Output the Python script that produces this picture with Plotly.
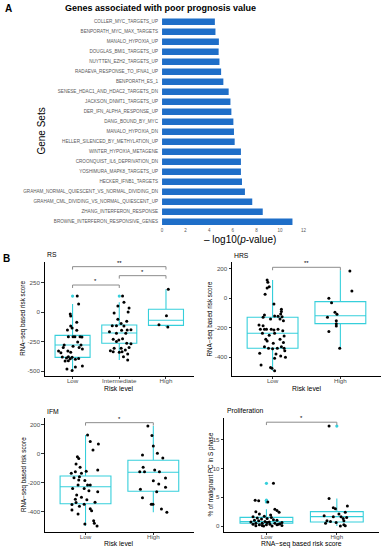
import plotly.graph_objects as go

W, H = 389, 550
FONT = "Liberation Sans, Arial, sans-serif"
CYAN = "#36cfdb"
BLUE = "#1e6ec8"

# ---------------- Panel A data ----------------
gene_sets = [
    "COLLER_MYC_TARGETS_UP", "BENPORATH_MYC_MAX_TARGETS", "MANALO_HYPOXIA_UP",
    "DOUGLAS_BMI1_TARGETS_UP", "NUYTTEN_EZH2_TARGETS_UP", "RADAEVA_RESPONSE_TO_IFNA1_UP",
    "BENPORATH_ES_1", "SENESE_HDAC1_AND_HDAC2_TARGETS_DN", "JACKSON_DNMT1_TARGETS_UP",
    "DER_IFN_ALPHA_RESPONSE_UP", "DANG_BOUND_BY_MYC", "MANALO_HYPOXIA_DN",
    "HELLER_SILENCED_BY_METHYLATION_UP", "WINTER_HYPOXIA_METAGENE",
    "CROONQUIST_IL6_DEPRIVATION_DN", "YOSHIMURA_MAPK8_TARGETS_UP", "HECKER_IFNB1_TARGETS",
    "GRAHAM_NORMAL_QUIESCENT_VS_NORMAL_DIVIDING_DN", "GRAHAM_CML_DIVIDING_VS_NORMAL_QUIESCENT_UP",
    "ZHANG_INTERFERON_RESPONSE", "BROWNE_INTERFERON_RESPONSIVE_GENES",
]
neg_log10_p = [4.48, 4.53, 4.82, 4.80, 4.87, 5.01, 5.20, 5.65, 5.80, 5.88, 6.05,
               6.10, 6.16, 6.69, 6.69, 6.69, 6.78, 7.03, 7.65, 8.54, 11.06]
bar_ticks = [0, 2, 4, 6, 8, 10, 12]

# ---------------- Panel B data ----------------
rs_levels = ["Low", "Intermediate", "High"]
two_levels = ["Low", "High"]

# RS
rs_low_vals = [135, 68, -17, -34, -87, -118, -135, -152, -155, -208, -210, -208, -212, -210,
               -279, -253, -279, -312, -290, -329, -329, -345, -340, -377, -395, -388, -382,
               -392, -414, -412, -400, -456, -465, -481, -495, -300, -300, -380]
rs_low_dx = [0.10, 0.13, -0.05, -0.04, 0.09, -0.04, -0.01, -0.11, 0.09, 0.01, -0.09, 0.16, 0.20,
             0.05, -0.18, 0.11, 0.18, 0.21, 0.01, -0.30, -0.10, -0.25, -0.04, -0.09, -0.05, -0.13,
             -0.01, 0.13, -0.16, -0.09, 0.06, 0.21, 0.06, -0.12, -0.01, -0.20, 0.14, -0.22]
rs_int_vals = [135, 82, 51, 34, 0, -9, -62, -79, -96, -115, -115, -118, -152, -150, -155, -180,
               -166, -180, -231, -236, -225, -250, -264, -268, -307, -307, -300, -321, -327,
               -335, -335, -355, -377, -405, -340]
rs_int_dx = [0.07, 0.10, -0.03, 0.21, 0.19, -0.11, -0.03, 0.16, 0.04, -0.15, -0.06, 0.10, 0.17,
             0.25, 0.05, 0.14, -0.21, -0.06, -0.13, -0.01, 0.07, -0.06, 0.16, 0.25, -0.11, 0.04,
             0.21, 0.13, -0.19, -0.13, 0.06, 0.18, 0.09, 0.18, 0.0]
rs_high_vals = [192, -31, -107, -127]
rs_high_dx = [0.05, 0.01, -0.15, 0.04]
rs_box = dict(q1=[-383, -264, -113], median=[-279, -177, -70], q3=[-197, -110, 23],
              lower=[-495, -405, -127], upper=[68, 82, 192])
rs_outliers_x = [0, 1]
rs_outliers_y = [135, 135]

# HRS
hrs_low_vals = [124, 108, 79, 70, 27, -39, -75, -90, -106, -113, -129, -120, -122, -125, -140,
                -140, -152, -181, -186, -210, -210, -210, -210, -215, -210, -220, -237, -237,
                -250, -256, -278, -290, -278, -305, -300, -328, -328, -339, -343, -339, -339,
                -355, -373, -378, -391, -407, -400, -452, -470, -475, -491]
hrs_low_dx = [-0.08, -0.07, -0.05, -0.08, -0.11, 0.02, 0.13, 0.13, 0.12, -0.12, -0.14, 0.03, 0.08,
              0.14, -0.03, 0.11, 0.16, -0.20, -0.14, -0.18, -0.12, -0.09, -0.02, 0.02, 0.08, 0.15,
              -0.15, 0.03, -0.05, 0.17, -0.10, -0.08, 0.11, 0.01, 0.16, 0.13, -0.12, -0.06, 0.0,
              0.07, 0.17, 0.18, -0.19, 0.05, 0.12, 0.03, 0.19, -0.17, -0.03, -0.01, 0.03]
hrs_high_vals = [0, -30, -95, -108, -129, -152, -172, -188, -226, -339, 49, 185]
hrs_high_dx = [-0.17, -0.13, -0.08, -0.05, -0.19, -0.06, -0.06, -0.06, -0.17, -0.01, 0.17, 0.14]
hrs_box = dict(q1=[-339, -172], median=[-237, -118], q3=[-129, -23],
               lower=[-491, -339], upper=[124, 190])

# IFM
ifm_low_vals = [129, 83, 67, 25, -21, -34, -71, -93, -124, -120, -135, -135, -112, -158, -165,
                -180, -185, -215, -215, -215, -240, -240, -254, -261, -284, -300, -313, -317,
                -334, -336, -348, -350, -362, -378, -387, -392, -414, -460, -478, -483, -497]
ifm_low_dx = [0.03, 0.07, 0.19, 0.11, -0.12, -0.10, -0.14, -0.08, -0.15, 0.01, -0.06, -0.21, 0.18,
              -0.09, -0.17, -0.10, -0.01, 0.03, 0.07, -0.11, -0.19, -0.02, 0.05, 0.18, -0.13,
              -0.06, -0.15, 0.02, 0.14, -0.14, -0.02, -0.20, -0.09, 0.07, -0.20, 0.09, -0.11,
              0.12, 0.13, -0.01, 0.17]
ifm_high_vals = [190, 124, 53, 3, -9, -30, -94, -124, -124, -124, -112, -167, -186, -208, -245,
                 -261, -231, -302, -348, -348, -380, -403]
ifm_high_dx = [-0.08, -0.02, 0.0, 0.06, -0.16, 0.14, -0.15, -0.20, -0.13, 0.09, 0.02, 0.18, 0.0,
               0.08, -0.19, 0.05, 0.18, -0.16, -0.03, -0.005, 0.12, 0.20]
ifm_box = dict(q1=[-344, -258], median=[-227, -128], q3=[-153, -45],
               lower=[-497, -403], upper=[129, 190])

# Proliferation
pro_low_vals = [7.43, 4.5, 4.4, 4.2, 2.5, 2.9, 2.7, 2.4, 2.1, 1.7, 1.9, 1.6, 1.3, 1.2, 1.1, 1.0,
                1.0, 0.9, 0.8, 0.7, 0.6, 0.5, 0.5, 0.5, 0.4, 0.3, 0.3, 0.2, 0.2, 0.2, 0.1, 0.05,
                0.0, 0.0, 0.3, 1.4, 0.6, 0.7, 1.5, 0.1]
pro_low_dx = [0.10, -0.16, -0.11, 0.02, -0.15, 0.12, 0.15, 0.18, -0.10, -0.03, 0.06, -0.19, 0.01,
              -0.07, 0.10, 0.15, -0.17, -0.11, -0.02, 0.04, 0.22, -0.15, -0.06, 0.12, 0.19, 0.05,
              -0.19, -0.10, 0.0, 0.15, 0.22, -0.15, -0.04, 0.08, 0.17, -0.13, 0.01, -0.22, 0.07,
              -0.06]
pro_high_vals = [17.4, 4.8, 3.2, 3.0, 3.5, 2.4, 1.8, 1.6, 1.6, 1.3, 1.5, 0.9, 0.8, 0.6, 0.9, 0.2,
                 0.05, 0.0, 0.5, 2.1]
pro_high_dx = [-0.11, -0.11, -0.05, -0.02, 0.15, 0.12, -0.18, -0.05, 0.06, 0.09, 0.14, -0.14,
               -0.09, -0.01, 0.10, 0.10, 0.12, 0.05, -0.16, 0.03]
pro_box = dict(q1=[0.47, 0.70], median=[0.76, 1.63], q3=[1.51, 2.50],
               lower=[0.0, 0.0], upper=[2.9, 4.8])
pro_outliers_x = [0, 0, 0, 0, 1]
pro_outliers_y = [7.43, 4.5, 4.4, 4.2, 17.4]

# significance brackets: (panel, group a, group b, level, label)
signif = [
    ("RS", 0, 1, 228, "*"), ("RS", 1, 2, 307, "*"), ("RS", 0, 2, 383, "**"),
    ("HRS", 0, 1, 210, "**"), ("IFM", 0, 1, 213, "*"), ("PRO", 0, 1, 18.07, "*"),
]


def fx(x):
    return x / W


def fy(y):
    return 1 - y / H


fig = go.Figure()

# ---------------- Panel A ----------------
fig.add_trace(go.Bar(x=neg_log10_p, y=gene_sets, orientation="h", marker_color=BLUE,
                     marker_line_width=0, xaxis="x", yaxis="y", showlegend=False,
                     hoverinfo="skip"))

# ---------------- Panel B ----------------
panels = {
    "RS": dict(ax="2", levels=rs_levels, box=rs_box,
               pts=[(0, rs_low_vals, rs_low_dx), (1, rs_int_vals, rs_int_dx),
                    (2, rs_high_vals, rs_high_dx)],
               out=(rs_outliers_x, rs_outliers_y), tick=25),
    "HRS": dict(ax="3", levels=two_levels, box=hrs_box,
                pts=[(0, hrs_low_vals, hrs_low_dx), (1, hrs_high_vals, hrs_high_dx)],
                out=([], []), tick=20),
    "IFM": dict(ax="4", levels=two_levels, box=ifm_box,
                pts=[(0, ifm_low_vals, ifm_low_dx), (1, ifm_high_vals, ifm_high_dx)],
                out=([], []), tick=20),
    "PRO": dict(ax="5", levels=two_levels, box=pro_box,
                pts=[(0, pro_low_vals, pro_low_dx), (1, pro_high_vals, pro_high_dx)],
                out=(pro_outliers_x, pro_outliers_y), tick=0.5),
}

for name, p in panels.items():
    xa, ya = "x" + p["ax"], "y" + p["ax"]
    b = p["box"]
    n = len(p["levels"])
    fig.add_trace(go.Box(x=list(range(n)), q1=b["q1"], median=b["median"], q3=b["q3"],
                         lowerfence=b["lower"], upperfence=b["upper"], width=0.75,
                         boxpoints=False, line=dict(color=CYAN, width=1.1),
                         fillcolor="rgba(255,255,255,0)", whiskerwidth=0,
                         xaxis=xa, yaxis=ya, showlegend=False, hoverinfo="skip"))
    ox, oy = p["out"]
    if ox:
        fig.add_trace(go.Scatter(x=ox, y=oy, mode="markers",
                                 marker=dict(color=CYAN, size=3.2), xaxis=xa, yaxis=ya,
                                 showlegend=False, hoverinfo="skip"))
    for gi, vals, dx in p["pts"]:
        fig.add_trace(go.Scatter(x=[gi + d for d in dx], y=vals, mode="markers",
                                 marker=dict(color="black", size=3), xaxis=xa, yaxis=ya,
                                 showlegend=False, hoverinfo="skip", cliponaxis=False))

annotations = []
for name, a, bgrp, lvl, lab in signif:
    p = panels[name]
    xa, ya = "x" + p["ax"], "y" + p["ax"]
    t = p["tick"]
    fig.add_trace(go.Scatter(x=[a, a, bgrp, bgrp], y=[lvl - t, lvl, lvl, lvl - t], mode="lines",
                             line=dict(color="#8c8c8c", width=1), xaxis=xa, yaxis=ya,
                             showlegend=False, hoverinfo="skip", cliponaxis=False))
    annotations.append(dict(x=(a + bgrp) / 2, y=lvl, xref=xa, yref=ya, text=lab,
                            showarrow=False, yanchor="bottom", yshift=-1,
                            font=dict(size=6, color="black", family=FONT)))

# ---------------- Layout ----------------
tickfont_b = dict(size=6.2, color="#4d4d4d", family=FONT)
layout = dict(
    width=W, height=H, margin=dict(l=0, r=0, t=0, b=0), autosize=False,
    paper_bgcolor="white", plot_bgcolor="white", showlegend=False,
    font=dict(family=FONT),
    bargap=0.35,
    xaxis=dict(domain=[fx(162.7), fx(305.7)], range=[0, 12], tickvals=bar_ticks,
               showgrid=False, zeroline=False, showline=False, ticks="", anchor="y",
               tickfont=dict(size=4.5, color="#595959", family=FONT)),
    yaxis=dict(domain=[fy(226.7), fy(16.7)], type="category", categoryorder="array",
               categoryarray=gene_sets, range=[20.5, -0.5], showgrid=False, zeroline=False,
               showline=False, ticks="", anchor="x", ticklabelstandoff=3,
               tickfont=dict(size=4.6, color="#595959", family=FONT)),
)


def box_axes(n, xd, yd, xr, yr, yt, levels):
    xa = dict(domain=[fx(xd[0]), fx(xd[1])], range=xr, tickvals=list(range(len(levels))),
              ticktext=levels, showgrid=False, zeroline=False, showline=True,
              linecolor="black", linewidth=0.8, ticks="outside", ticklen=2.5, tickwidth=0.8,
              tickcolor="#333333", tickfont=tickfont_b, anchor="y" + n, ticklabelstandoff=-4)
    ya = dict(domain=[fy(yd[1]), fy(yd[0])], range=yr, tickvals=yt,
              ticktext=[str(v) for v in yt], showgrid=False, zeroline=False, showline=True,
              linecolor="black", linewidth=0.8, ticks="outside", ticklen=2.5, tickwidth=0.8,
              tickcolor="#333333", tickfont=tickfont_b, anchor="x" + n)
    return xa, ya


for n, xd, yd, xr, yr, yt, lv in [
    ("2", (44, 195), (261.7, 375.7), [-0.6, 2.6], [-538, 425], [-500, -250, 0, 250], rs_levels),
    ("3", (233.3, 384), (262, 375.7), [-0.6, 1.6], [-525, 246], [-400, -200, 0, 200], two_levels),
    ("4", (44.3, 195), (418.3, 531.7), [-0.6, 1.6], [-536, 243], [-400, -200, 0, 200], two_levels),
    ("5", (225.5, 382), (418, 531.7), [-0.6, 1.6], [-0.99, 18.8], [0, 5, 10, 15], two_levels),
]:
    xa, ya = box_axes(n, xd, yd, xr, yr, yt, lv)
    layout["xaxis" + n] = xa
    layout["yaxis" + n] = ya


def txt(x, y, s, size, bold=False, angle=0, xanchor="center", color="black"):
    return dict(x=fx(x), y=fy(y), xref="paper", yref="paper", text=("<b>%s</b>" % s) if bold else s,
                showarrow=False, xanchor=xanchor, yanchor="middle", textangle=angle,
                font=dict(size=size, color=color, family=FONT))


annotations += [
    txt(7.3, 8.5, "A", 10, bold=True),
    txt(161.5, 7.5, "Genes associated with poor prognosis value", 9, bold=True),
    txt(40, 131, "Gene Sets", 10, angle=-90),
    txt(241, 239.5, "– log10(<i>p</i>-value)", 10),
    txt(6, 258.5, "B", 10, bold=True),
    txt(44, 254.5, "RS", 6.8, xanchor="left"),
    txt(233, 255, "HRS", 6.8, xanchor="left"),
    txt(44, 411, "IFM", 6.8, xanchor="left"),
    txt(226, 410, "Proliferation", 6.8, xanchor="left"),
    txt(22.3, 318.7, "RNA−seq based risk score", 6.3, angle=-90),
    txt(211, 318.7, "RNA−seq based risk score", 6.3, angle=-90),
    txt(23.3, 475, "RNA−seq based risk score", 6.3, angle=-90),
    txt(211.7, 475, "% of malignant PC in S phase", 6.3, angle=-90),
    txt(119.5, 388.5, "Risk level", 6.8),
    txt(308.7, 388.5, "Risk level", 6.8),
    txt(119.7, 543.5, "Risk level", 6.8),
    txt(303.7, 543.5, "RNA−seq based risk score", 6.8),
]
layout["annotations"] = annotations
fig.update_layout(**layout)

fig.write_html("out.html", config={"displayModeBar": False},
               post_script="document.body.style.margin='0';document.body.style.overflow='hidden';")
